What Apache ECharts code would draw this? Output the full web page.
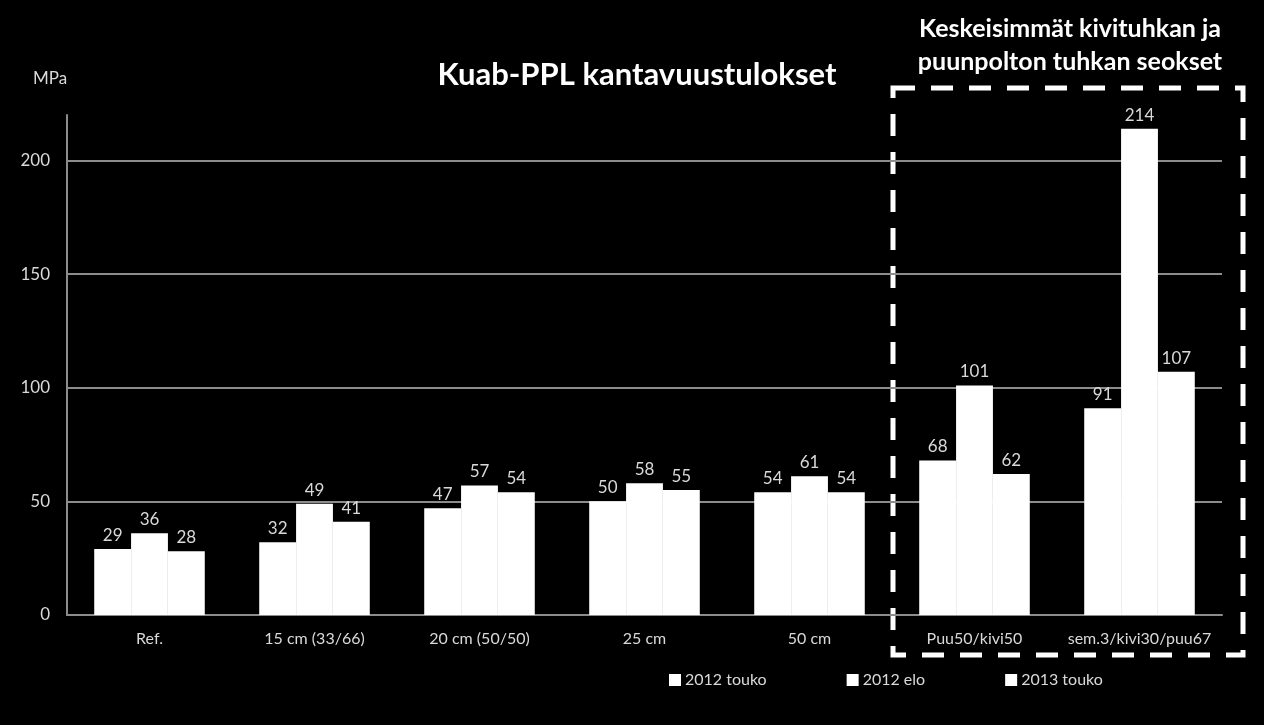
<!DOCTYPE html>
<html><head><meta charset="utf-8">
<script src="https://cdn.jsdelivr.net/npm/echarts@6/dist/echarts.min.js"></script>
<style>html,body{margin:0;padding:0;background:#000}#c{width:1264px;height:725px}</style>
</head><body><div id="c"></div>
<script>
const categories = ['Ref.', '15 cm (33/66)', '20 cm (50/50)', '25 cm', '50 cm', 'Puu50/kivi50', 'sem.3/kivi30/puu67'];
const seriesNames = ['2012 touko', '2012 elo', '2013 touko'];
const touko2012 = [29, 32, 47, 50, 54, 68, 91];
const elo2012 = [36, 49, 57, 58, 61, 101, 214];
const touko2013 = [28, 41, 54, 55, 54, 62, 107];
const yTicks = [0, 50, 100, 150, 200];

const font = 'Lato, "Open Sans", sans-serif';
const chart = echarts.init(document.getElementById('c'));
const mk = (name, data) => ({
  name, type: 'bar', data, barGap: '0%', barCategoryGap: '33%',
  itemStyle: { color: '#ffffff', borderColor: '#ffffff', borderWidth: 2 },
  label: { show: true, position: 'top', color: '#d9d9d9', fontSize: 17, fontFamily: font, distance: 5 }
});
chart.setOption({
  backgroundColor: '#000',
  animation: false,
  title: {
    text: 'Kuab-PPL kantavuustulokset', left: 632, top: 54, textAlign: 'center',
    textStyle: { color: '#ffffff', fontSize: 31, fontWeight: 'bold', fontFamily: font }
  },
  legend: {
    data: seriesNames, left: 664, top: 667, itemGap: 80, itemWidth: 10, itemHeight: 10,
    icon: 'rect', textStyle: { color: '#d9d9d9', fontSize: 16, fontFamily: font }
  },
  grid: { left: 67, right: 42, top: 115, bottom: 110, containLabel: false },
  xAxis: {
    type: 'category', data: categories,
    axisLine: { lineStyle: { color: '#8c8c8c', width: 2 } },
    axisTick: { show: false },
    axisLabel: { color: '#d9d9d9', fontSize: 16, fontFamily: font, margin: 16, interval: 0 }
  },
  yAxis: {
    type: 'value', min: 0, max: 220, interval: 50,
    name: 'MPa', nameLocation: 'end', nameGap: 28,
    nameTextStyle: { color: '#d9d9d9', fontSize: 17, fontFamily: font, align: 'center', padding: [0, 0, 0, -34] },
    axisLine: { show: true, lineStyle: { color: '#8c8c8c', width: 2 } },
    axisTick: { show: false },
    axisLabel: { color: '#d9d9d9', fontSize: 17, fontFamily: font, margin: 17,
      formatter: v => yTicks.includes(v) ? String(v) : '' },
    splitLine: { show: true, showMaxLine: false, lineStyle: { color: '#8c8c8c', width: 2 } }
  },
  graphic: [
    { type: 'rect', shape: { x: 893, y: 88, width: 350, height: 567 },
      style: { fill: 'none', stroke: '#ffffff', lineWidth: 5, lineDash: [22, 16] } },
    { type: 'text', x: 1070, y: 12,
      style: { text: 'Keskeisimmät kivituhkan ja\npuunpolton tuhkan seokset', align: 'center', verticalAlign: 'top',
        fill: '#ffffff', font: 'bold 25px ' + font, lineHeight: 33 } }
  ],
  series: [mk(seriesNames[0], touko2012), mk(seriesNames[1], elo2012), mk(seriesNames[2], touko2013)]
});
</script></body></html>
